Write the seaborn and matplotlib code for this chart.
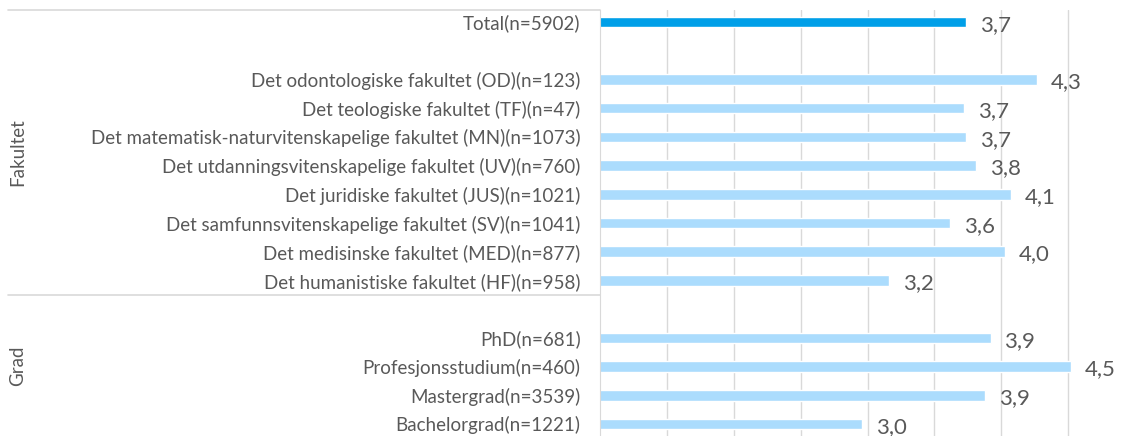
import seaborn as sns
import matplotlib.pyplot as plt
import matplotlib.transforms as mtransforms
import pandas as pd

labels = ["Total(n=5902)",
          "Det odontologiske fakultet (OD)(n=123)",
          "Det teologiske fakultet (TF)(n=47)",
          "Det matematisk-naturvitenskapelige fakultet (MN)(n=1073)",
          "Det utdanningsvitenskapelige fakultet (UV)(n=760)",
          "Det juridiske fakultet (JUS)(n=1021)",
          "Det samfunnsvitenskapelige fakultet (SV)(n=1041)",
          "Det medisinske fakultet (MED)(n=877)",
          "Det humanistiske fakultet (HF)(n=958)",
          "PhD(n=681)",
          "Profesjonsstudium(n=460)",
          "Mastergrad(n=3539)",
          "Bachelorgrad(n=1221)"]
values = [3.74, 4.27, 3.72, 3.74, 3.81, 4.07, 3.62, 4.03, 3.16, 3.92, 4.52, 3.88, 2.96]
rows = [0, 2, 3, 4, 5, 6, 7, 8, 9, 11, 12, 13, 14]
kind = ["Total"] + ["Fakultet"] * 8 + ["Grad"] * 4
groups = ["Fakultet", "Grad"]

df = pd.DataFrame({"label": labels, "value": values, "row": rows, "kind": kind})

sns.set_style("white")
plt.rcParams["font.family"] = ["Lato", "DejaVu Sans"]
grey = "#595959"

fig = plt.figure(figsize=(11.3, 4.36), dpi=100)
ax = fig.add_axes([600 / 1130, 0, 535 / 1130, 426 / 436])

sns.barplot(data=df, x="value", y="row", hue="kind", orient="h", native_scale=True,
            dodge=False, width=0.37, legend=False, saturation=1,
            palette={"Total": "#009FE8", "Fakultet": "#ABDCFD", "Grad": "#ABDCFD"}, ax=ax)

ax.set_xlim(1, 5)
ax.set_ylim(14.42, -0.42)
ax.set_xticks([1.5, 2, 2.5, 3, 3.5, 4, 4.5])
ax.set_xticklabels([])
ax.grid(axis="x", color="#D9D9D9", linewidth=1)
ax.set_axisbelow(True)
ax.tick_params(axis="both", length=0)
ax.set_yticks(rows)
ax.set_yticklabels(labels, fontsize=13.5, color=grey)
ax.tick_params(axis="y", pad=14)
ax.set_xlabel("")
ax.set_ylabel("")
for s in ["top", "right", "bottom"]:
    ax.spines[s].set_visible(False)
ax.spines["left"].set_color("#D9D9D9")

for v, r in zip(values, rows):
    ax.annotate(f"{v:.1f}".replace(".", ","), (v, r), xytext=(10, -2), textcoords="offset points",
                ha="left", va="center", fontsize=16, color=grey)

# group separators on the category axis
trans = mtransforms.blended_transform_factory(fig.transFigure, ax.transData)
for y in [-0.42, 9.5]:
    ax.plot([8 / 1130, 600 / 1130], [y, y], transform=trans, color="#D9D9D9",
            linewidth=1.2, clip_on=False)

fig.text(18 / 1130, 1 - 152 / 436, groups[0], rotation=90, ha="center", va="center",
         fontsize=13.5, color=grey)
fig.text(18 / 1130, 1 - 366 / 436, groups[1], rotation=90, ha="center", va="center",
         fontsize=13.5, color=grey)

plt.savefig("out.png", dpi=100)
